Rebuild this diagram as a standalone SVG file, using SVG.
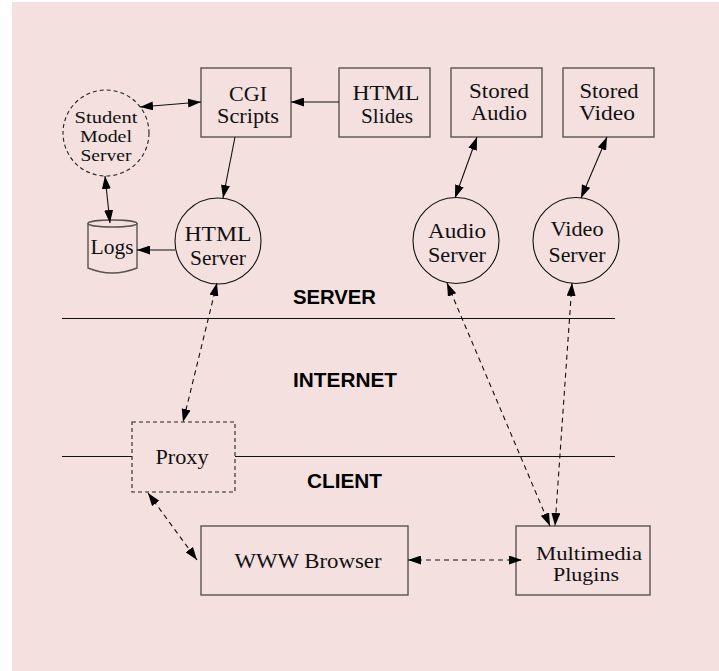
<svg xmlns="http://www.w3.org/2000/svg" width="719" height="671" viewBox="0 0 719 671">
<defs>
<style>
.box{fill:none;stroke:#5a5252;stroke-width:1.4}
.dbox{fill:none;stroke:#222;stroke-width:1.1;stroke-dasharray:4,3}
.circ{fill:none;stroke:#111;stroke-width:1.1}
.dcirc{fill:none;stroke:#222;stroke-width:1.1;stroke-dasharray:4,3}
.t{font-family:"Liberation Serif","Times New Roman",serif;font-size:21px;fill:#111;text-anchor:middle}
.ts{font-family:"Liberation Serif","Times New Roman",serif;font-size:17px;fill:#111;text-anchor:middle}
.tm{font-family:"Liberation Serif","Times New Roman",serif;font-size:19px;fill:#111;text-anchor:middle}
.lbl{font-family:"Liberation Sans",Arial,sans-serif;font-size:20px;font-weight:bold;fill:#000}
.sep{stroke:#111;stroke-width:1.2}
.c{fill:none;stroke:#111;stroke-width:1.1}
.cd{fill:none;stroke:#111;stroke-width:1.1;stroke-dasharray:5,4}
</style>
<marker id="ah" viewBox="0 0 13 9" refX="13" refY="4.5" markerWidth="13" markerHeight="9" markerUnits="userSpaceOnUse" orient="auto-start-reverse">
<path d="M0,0 L13,4.5 L0,9 z" fill="#000"/>
</marker>
</defs>
<rect x="12" y="2" width="707" height="669" fill="#f4e0df"/>

<g id="separators">
<line class="sep" x1="62" y1="318.5" x2="615" y2="318.5"/>
<line class="sep" x1="62" y1="456.5" x2="132" y2="456.5"/>
<line class="sep" x1="235" y1="456.5" x2="615" y2="456.5"/>
<text class="lbl" x="293" y="304" textLength="83" lengthAdjust="spacingAndGlyphs">SERVER</text>
<text class="lbl" x="293" y="387" textLength="104" lengthAdjust="spacingAndGlyphs">INTERNET</text>
<text class="lbl" x="307" y="488" textLength="75" lengthAdjust="spacingAndGlyphs">CLIENT</text>
</g>

<g id="student-model">
<circle class="dcirc" cx="106" cy="133" r="43"/>
<text class="ts" x="106" y="122.5" textLength="63" lengthAdjust="spacingAndGlyphs">Student</text>
<text class="ts" x="106" y="141.5" textLength="52" lengthAdjust="spacingAndGlyphs">Model</text>
<text class="ts" x="106" y="160.5" textLength="51" lengthAdjust="spacingAndGlyphs">Server</text>
</g>

<g id="cgi">
<rect class="box" x="201" y="68" width="90" height="69"/>
<text class="t" x="248" y="101" textLength="38" lengthAdjust="spacingAndGlyphs">CGI</text>
<text class="t" x="248" y="123" textLength="62" lengthAdjust="spacingAndGlyphs">Scripts</text>
</g>

<g id="html-slides">
<rect class="box" x="339" y="68" width="91" height="69"/>
<text class="t" x="386" y="100" textLength="67" lengthAdjust="spacingAndGlyphs">HTML</text>
<text class="t" x="387" y="123" textLength="52" lengthAdjust="spacingAndGlyphs">Slides</text>
</g>

<g id="stored-audio">
<rect class="box" x="451" y="68" width="91" height="69"/>
<text class="t" x="499" y="98" textLength="60" lengthAdjust="spacingAndGlyphs">Stored</text>
<text class="t" x="499" y="120" textLength="56" lengthAdjust="spacingAndGlyphs">Audio</text>
</g>

<g id="stored-video">
<rect class="box" x="563" y="68" width="91" height="69"/>
<text class="t" x="609" y="98" textLength="59" lengthAdjust="spacingAndGlyphs">Stored</text>
<text class="t" x="607" y="120" textLength="56" lengthAdjust="spacingAndGlyphs">Video</text>
</g>

<g id="logs">
<path class="box" d="M88,223 L88,268 Q112,278 137,268 L137,223"/>
<ellipse class="box" cx="112.5" cy="223.5" rx="24.5" ry="3.5"/>
<text class="t" x="112" y="254" textLength="43" lengthAdjust="spacingAndGlyphs">Logs</text>
</g>

<g id="html-server">
<circle class="circ" cx="218" cy="241" r="43"/>
<text class="t" x="218" y="241" textLength="67" lengthAdjust="spacingAndGlyphs">HTML</text>
<text class="t" x="218" y="265" textLength="56" lengthAdjust="spacingAndGlyphs">Server</text>
</g>

<g id="audio-server">
<circle class="circ" cx="456" cy="240.5" r="43"/>
<text class="t" x="457" y="238" textLength="58" lengthAdjust="spacingAndGlyphs">Audio</text>
<text class="t" x="457" y="262" textLength="58" lengthAdjust="spacingAndGlyphs">Server</text>
</g>

<g id="video-server">
<circle class="circ" cx="576" cy="240.5" r="43"/>
<text class="t" x="577" y="236" textLength="53" lengthAdjust="spacingAndGlyphs">Video</text>
<text class="t" x="577" y="262" textLength="57" lengthAdjust="spacingAndGlyphs">Server</text>
</g>

<g id="proxy">
<rect class="dbox" x="132" y="422" width="103" height="70"/>
<text class="t" x="182" y="464" textLength="53" lengthAdjust="spacingAndGlyphs">Proxy</text>
</g>

<g id="www-browser">
<rect class="box" x="201" y="526" width="207" height="69"/>
<text class="t" x="308" y="568" textLength="147" lengthAdjust="spacingAndGlyphs">WWW Browser</text>
</g>

<g id="multimedia-plugins">
<rect class="box" x="516" y="526" width="134" height="69"/>
<text class="tm" x="589" y="559.5" textLength="106" lengthAdjust="spacingAndGlyphs">Multimedia</text>
<text class="tm" x="586" y="581" textLength="66" lengthAdjust="spacingAndGlyphs">Plugins</text>
</g>

<g id="connectors">
<line class="c" x1="140" y1="107" x2="201" y2="102" marker-start="url(#ah)" marker-end="url(#ah)"/>
<line class="c" x1="339" y1="102" x2="291" y2="102" marker-end="url(#ah)"/>
<line class="c" x1="235" y1="137" x2="223" y2="198" marker-end="url(#ah)"/>
<line class="c" x1="105" y1="176" x2="110" y2="223" marker-start="url(#ah)" marker-end="url(#ah)"/>
<line class="c" x1="175" y1="250" x2="137" y2="250" marker-end="url(#ah)"/>
<line class="c" x1="477" y1="137" x2="455" y2="198" marker-start="url(#ah)" marker-end="url(#ah)"/>
<line class="c" x1="607" y1="137" x2="581" y2="198" marker-start="url(#ah)" marker-end="url(#ah)"/>
<line class="cd" x1="217" y1="283" x2="183" y2="422" marker-start="url(#ah)" marker-end="url(#ah)"/>
<line class="cd" x1="447" y1="283" x2="550" y2="526" marker-start="url(#ah)" marker-end="url(#ah)"/>
<line class="cd" x1="572" y1="283" x2="555" y2="526" marker-start="url(#ah)" marker-end="url(#ah)"/>
<line class="cd" x1="148" y1="493" x2="197" y2="560" marker-start="url(#ah)" marker-end="url(#ah)"/>
<line class="cd" x1="408" y1="560" x2="522" y2="560" marker-start="url(#ah)" marker-end="url(#ah)"/>
</g>
</svg>
